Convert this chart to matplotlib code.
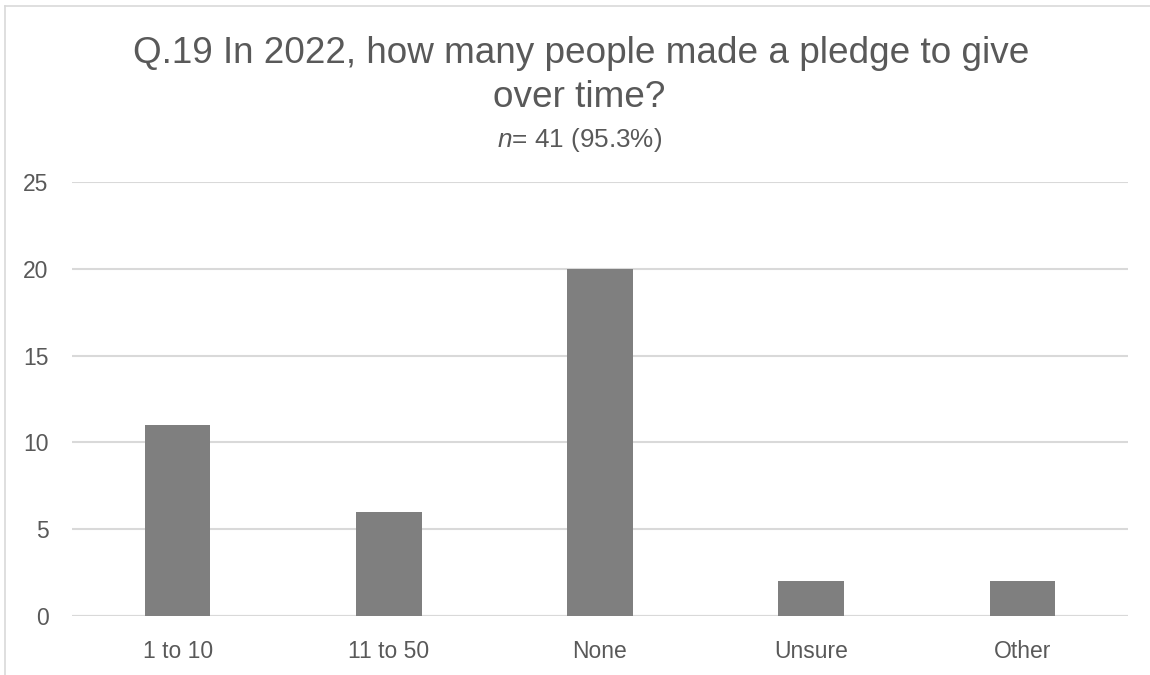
import matplotlib.pyplot as plt
from matplotlib.lines import Line2D

categories = ["1 to 10", "11 to 50", "None", "Unsure", "Other"]
counts = [11, 6, 20, 2, 2]
y_ticks = [0, 5, 10, 15, 20, 25]

plt.rcParams['font.family'] = ['Liberation Sans', 'DejaVu Sans']
plt.rcParams['mathtext.fontset'] = 'custom'
plt.rcParams['mathtext.rm'] = 'Liberation Sans'
plt.rcParams['mathtext.it'] = 'Liberation Sans:italic'
text_color = "#595959"
grid_color = "#d9d9d9"
bar_color = "#7f7f7f"

W, H = 1150, 675
fig = plt.figure(figsize=(W / 100, H / 100), dpi=100)
ax = fig.add_axes([72 / W, 1 - 616 / H, (1128 - 72) / W, (616 - 182) / H])

x = range(len(categories))
ax.bar(x, counts, width=0.31, color=bar_color, zorder=3)
ax.set_xlim(-0.5, len(categories) - 0.5)
ax.set_ylim(0, 25)
ax.set_yticks(y_ticks)
ax.set_xticks(list(x))
ax.set_xticklabels(categories)
ax.yaxis.grid(True, color=grid_color, linewidth=1.5, zorder=0)
for s in ax.spines.values():
    s.set_visible(False)
ax.tick_params(axis='both', length=0, labelsize=16.5, colors=text_color)
ax.tick_params(axis='y', pad=17)
ax.tick_params(axis='x', pad=17)
ax.axhline(0, color=grid_color, linewidth=1.5, zorder=2)

# Title (two lines) and subtitle
fig.text(581 / W, 1 - 63 / H, "Q.19 In 2022, how many people made a pledge to give",
         ha='center', va='baseline', fontsize=26.6, color=text_color)
fig.text(579 / W, 1 - 107 / H, "over time?",
         ha='center', va='baseline', fontsize=26.6, color=text_color)
fig.text(580 / W, 1 - 147 / H, r"$\it{n}$" + "= 41 (95.3%)", ha='center', va='baseline',
         fontsize=18.8, color=text_color)

# Chart frame edges
fig.add_artist(Line2D([5 / W, 5 / W], [0, 1 - 6 / H], transform=fig.transFigure,
                      color=grid_color, linewidth=1.2))
fig.add_artist(Line2D([5 / W, 1], [1 - 6 / H, 1 - 6 / H], transform=fig.transFigure,
                      color=grid_color, linewidth=1.2))

fig.savefig("out.png", dpi=100)
